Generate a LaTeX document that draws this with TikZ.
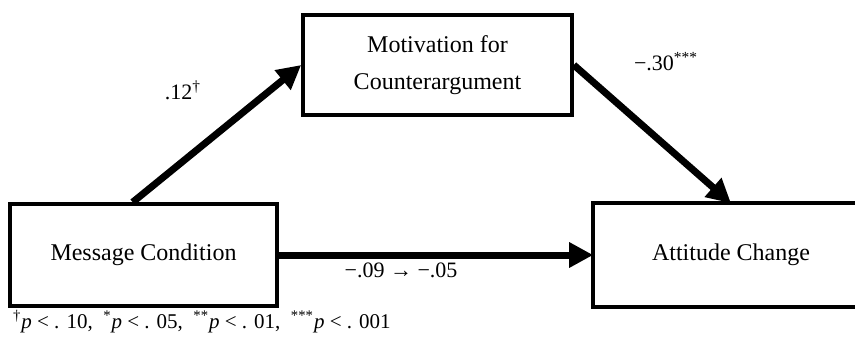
\documentclass[tikz,border=0pt]{standalone}
\usepackage{fontspec}
\setmainfont{Liberation Serif}
\usepackage{tikz}
\usetikzlibrary{arrows.meta,positioning,calc}
\tikzset{
  var/.style={draw, rectangle, line width=1.8pt, inner sep=0pt, font=\fontsize{12}{18.5}\selectfont, align=center},
  path/.style={line width=3.5pt, -{Triangle[length=12pt, width=12pt]}},
  coef/.style={font=\fontsize{11}{13}\selectfont},
}
\begin{document}
\begin{tikzpicture}[x=0.5pt, y=-0.5pt]
\useasboundingbox (0,0) rectangle (855,338);
\node[var, minimum width=133.5pt, minimum height=51pt] (msg) at (143.5,255) {Message Condition};
\node[var, minimum width=134.5pt, minimum height=50pt] (mot) at (437.5,65) {Motivation for\\Counterargument};
% box runs past the right edge of the page, so no right side
\node[var, draw=none, minimum width=136pt, minimum height=50pt] (att) at (731,255) {Attitude Change};
\draw[line width=1.8pt] (att.north east) -- (att.north west) -- (att.south west) -- (att.south east);
\draw[path] ($(msg.north west)!0.46!(msg.north east)$) -- (mot.west);
\draw[path] (mot.east) -- (att.north);
\draw[path] (msg.east) -- (att.west);
\node[coef] (a) at (183,90) {.12\textsuperscript{†}};
\node[coef] (b) at (666,62) {−.30\textsuperscript{***}};
\node[coef] (c) at (401,270) {−.09 → −.05};
\node[coef, anchor=west, font=\fontsize{10.5}{13}\selectfont] (note) at (6,322) {\textsuperscript{†}\textit{p} < . 10,\ \ \textsuperscript{*}\textit{p} < . 05,\ \ \textsuperscript{**}\textit{p} < . 01,\ \ \textsuperscript{***}\textit{p} < . 001};
\end{tikzpicture}
\end{document}
